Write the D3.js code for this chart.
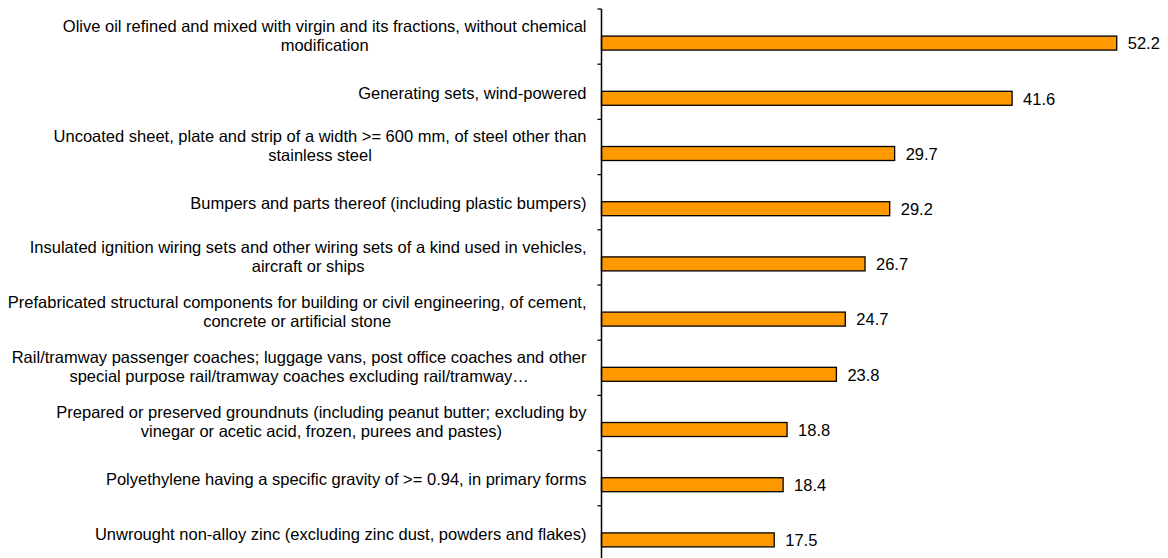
<!DOCTYPE html>
<html>
<head>
<meta charset="utf-8">
<script src="https://cdn.jsdelivr.net/npm/d3@7"></script>
<style>
  html, body { margin: 0; padding: 0; background: #fff; overflow: hidden; }
  svg { display: block; }
  text { font-family: "Liberation Sans", Arial, sans-serif; fill: #000; }
</style>
</head>
<body>
<svg id="chart" width="1168" height="558"></svg>
<script>
// Product categories (label lines, top to bottom)
const categories = [
  ["Olive oil refined and mixed with virgin and its fractions, without chemical", "modification"],
  ["Generating sets, wind-powered"],
  ["Uncoated sheet, plate and strip of a width >= 600 mm, of steel other than", "stainless steel"],
  ["Bumpers and parts thereof (including plastic bumpers)"],
  ["Insulated ignition wiring sets and other wiring sets of a kind used in vehicles,", "aircraft or ships"],
  ["Prefabricated structural components for building or civil engineering, of cement,", "concrete or artificial stone"],
  ["Rail/tramway passenger coaches; luggage vans, post office coaches and other", "special purpose rail/tramway coaches excluding rail/tramway\u2026"],
  ["Prepared or preserved groundnuts (including peanut butter; excluding by", "vinegar or acetic acid, frozen, purees and pastes)"],
  ["Polyethylene having a specific gravity of >= 0.94, in primary forms"],
  ["Unwrought non-alloy zinc (excluding zinc dust, powders and flakes)"]
];
const values = [52.2, 41.6, 29.7, 29.2, 26.7, 24.7, 23.8, 18.8, 18.4, 17.5];
const valueLabels = values.map(v => v.toFixed(1));

const svg = d3.select("#chart");
const axisX = 601.5;
const plotTop = 9, plotBottom = 561;
const barH = 14;
const fontSize = 16.5;

const ids = d3.range(categories.length);
const y = d3.scaleBand().domain(ids).range([plotTop, plotBottom]).padding(0);
const x = d3.scaleLinear().domain([0, 60]).range([axisX, axisX + 592.2]);

// Bars sit in the lower half of each category band
svg.append("g").selectAll("rect")
  .data(ids)
  .join("rect")
  .attr("x", x(0))
  .attr("y", i => y(i) + y.bandwidth() / 2 - 0.5)
  .attr("width", i => x(values[i]) - x(0))
  .attr("height", barH)
  .attr("fill", "#FF9900")
  .attr("stroke", "#000")
  .attr("stroke-width", 1.3);

// Value labels to the right of each bar
svg.append("g").selectAll("text")
  .data(ids)
  .join("text")
  .attr("x", i => x(values[i]) + 11)
  .attr("y", i => y(i) + y.bandwidth() / 2 + barH / 2)
  .attr("dy", "0.35em")
  .attr("font-size", fontSize)
  .text(i => valueLabels[i]);

// Category axis: vertical line with short ticks on band boundaries
const axis = svg.append("g");
axis.append("line")
  .attr("x1", axisX).attr("x2", axisX)
  .attr("y1", plotTop).attr("y2", plotBottom)
  .attr("stroke", "#000").attr("stroke-width", 1.5);
axis.selectAll("line.tick")
  .data(d3.range(categories.length + 1))
  .join("line")
  .attr("class", "tick")
  .attr("x1", axisX - 4).attr("x2", axisX)
  .attr("y1", k => plotTop + k * y.bandwidth())
  .attr("y2", k => plotTop + k * y.bandwidth())
  .attr("stroke", "#000").attr("stroke-width", 1.3);

// Category labels, centred text blocks right-aligned near the axis
const lineH = 19;
const labels = svg.append("g").selectAll("g")
  .data(ids)
  .join("g");
labels.each(function(i) {
  const lines = categories[i];
  const g = d3.select(this);
  const t = g.append("text")
    .attr("font-size", fontSize)
    .attr("text-anchor", "middle");
  const cy = y(i) + y.bandwidth() / 2 + (lines.length > 1 ? -1 : 1);
  lines.forEach((ln, k) => {
    t.append("tspan")
      .attr("x", 0)
      .attr("y", cy + (k - (lines.length - 1) / 2) * lineH)
      .attr("dy", "0.35em")
      .text(ln);
  });
  // right edge of the widest line sits just left of the axis
  const w = d3.max(t.selectAll("tspan").nodes(), n => n.getComputedTextLength());
  t.selectAll("tspan").attr("x", axisX - 15 - w / 2);
});
</script>
</body>
</html>
